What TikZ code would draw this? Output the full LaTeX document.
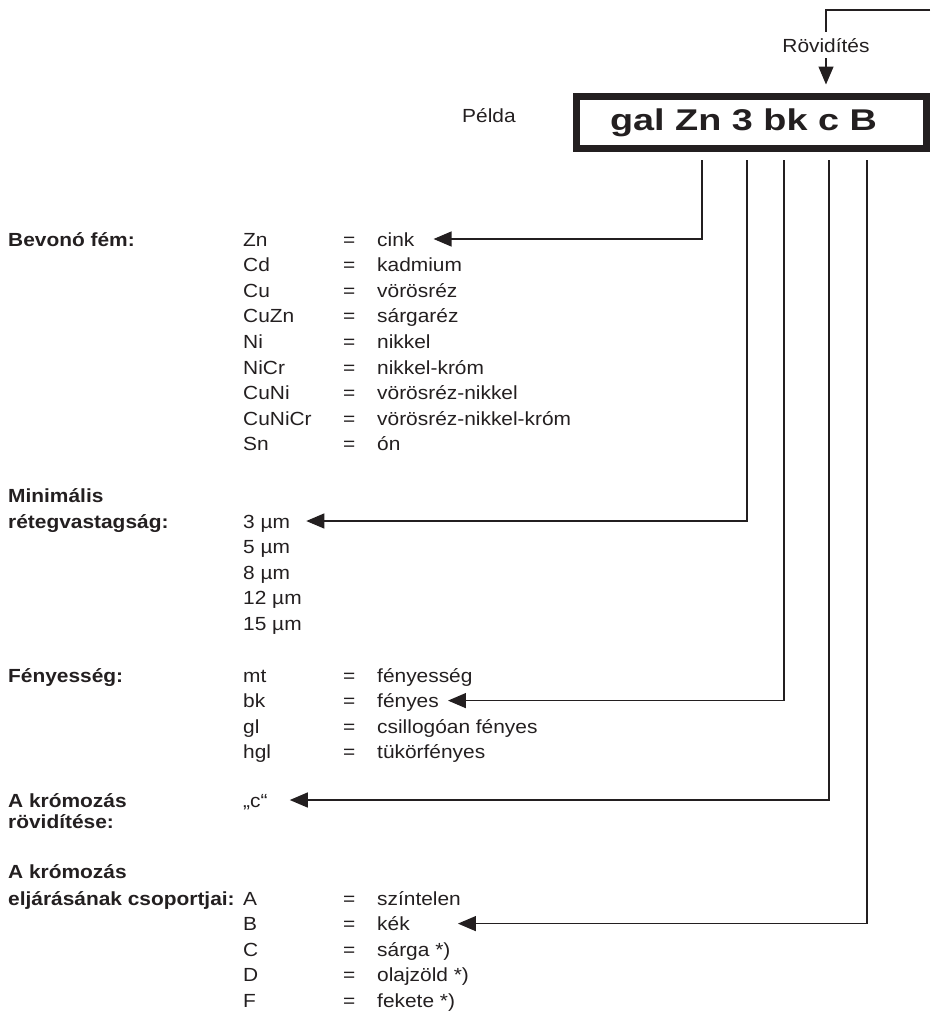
\documentclass[tikz,border=0pt]{standalone}
\usepackage{fontspec}
\setmainfont{Liberation Sans}[FakeStretch=1.1]
\newfontfamily\codefont{Liberation Sans}[FakeStretch=1.26]
\newcommand\bodysize{\fontsize{19pt}{23pt}\selectfont}
\definecolor{ink}{RGB}{35,31,32}
\usetikzlibrary{arrows.meta}
\tikzset{
	entry/.style={anchor=base west, inner sep=0pt, text height=14pt, text depth=0pt},
	lbl/.style={entry, font=\bodysize\bfseries},
	wire/.style={line width=1.3pt},
	feed/.style={wire, -{Triangle[length=18pt,width=15pt]}},
	codebox/.style={draw, line width=7pt, minimum width=350pt, minimum height=52pt, inner sep=0pt, font=\codefont\bfseries\fontsize{30pt}{34pt}\selectfont}
}
\begin{document}
\begin{tikzpicture}[x=1pt, y=-1pt, font=\bodysize, line join=miter, color=ink]
	\useasboundingbox (0,0) rectangle (930,1012);
	\def\xa{243} \def\xb{343} \def\xc{377} \def\dy{25.6}
	% code box
	\node[codebox] (code) at (751.5,122.5) {gal Zn 3 bk c B\hspace*{16pt}};
	\node[entry] (ex) at (462,122) {Példa};
	\node[anchor=base, inner xsep=0pt, inner ysep=6pt, text height=14pt, text depth=0pt] (abbr) at (826,52) {Rövidítés};
	\coordinate (feedin) at (930,10);
	\draw[wire] (feedin) -| (abbr.north);
	\draw[feed, shorten >=8.5pt] (abbr.south) -- (abbr.south |- code.north);
	\foreach \n/\x in {pZn/702, pThk/747, pGl/784, pCr/829, pGrp/867} \coordinate (\n) at (\x,160);
	% bevono fem
	\node[lbl] (hmet) at (8,246) {Bevonó fém:};
	\foreach \c/\v [count=\i from 0] in {Zn/cink, Cd/kadmium, Cu/vörösréz, CuZn/sárgaréz, Ni/nikkel, NiCr/nikkel-króm, CuNi/vörösréz-nikkel, CuNiCr/vörösréz-nikkel-króm, Sn/ón}{
		\node[entry] (met\i) at (\xa,{246+\dy*\i}) {\c};
		\node[entry] at (\xb,{246+\dy*\i}) {=};
		\node[entry] (metv\i) at (\xc,{246+\dy*\i}) {\v};
	}
	% retegvastagsag
	\node[lbl] (hthk) at (8,502) {Minimális};
	\node[lbl] at (8,528) {rétegvastagság:};
	\foreach \v [count=\i from 0] in {3,5,8,12,15}
		\node[entry] (thk\i) at (\xa,{528+\dy*\i}) {\v\ µm};
	% fenyesseg
	\node[lbl] (hgl) at (8,682) {Fényesség:};
	\foreach \c/\v [count=\i from 0] in {mt/fényesség, bk/fényes, gl/csillogóan fényes, hgl/tükörfényes}{
		\node[entry] (gl\i) at (\xa,{682+\dy*\i}) {\c};
		\node[entry] at (\xb,{682+\dy*\i}) {=};
		\node[entry] (glv\i) at (\xc,{682+\dy*\i}) {\v};
	}
	% kromozas
	\node[lbl] (hcr) at (8,807) {A krómozás};
	\node[lbl] at (8,828) {rövidítése:};
	\node[entry] (crv) at (\xa,807) {„c“};
	\node[lbl] (hgrp) at (8,878) {A krómozás};
	\node[lbl] at (8,905) {eljárásának csoportjai:};
	\foreach \c/\v [count=\i from 0] in {A/színtelen, B/kék, C/sárga *), D/olajzöld *), F/fekete *)}{
		\node[entry] (grp\i) at (\xa,{905+\dy*\i}) {\c};
		\node[entry] at (\xb,{905+\dy*\i}) {=};
		\node[entry] (grpv\i) at (\xc,{905+\dy*\i}) {\v};
	}
	% connectors
	\draw[feed] (pZn) |- ([xshift=19pt]metv0.east);
	\draw[feed] (pThk) |- ([xshift=16pt]thk0.east);
	\draw[feed] (pGl) |- ([xshift=9pt]glv1.east);
	\draw[feed] (pCr) |- ([xshift=22pt]crv.east);
	\draw[feed] (pGrp) |- ([xshift=48pt]grpv1.east);
\end{tikzpicture}
\end{document}
